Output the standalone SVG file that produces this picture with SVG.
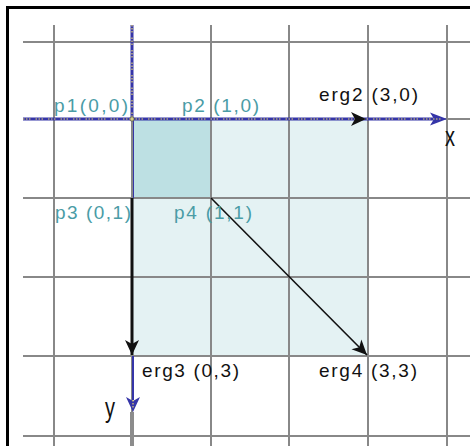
<svg xmlns="http://www.w3.org/2000/svg" width="470" height="446" viewBox="0 0 470 446">
  <style>
    .grid { stroke: #888888; stroke-width: 2; fill: none; }
    .lbl { font-family: "Liberation Sans", Arial, sans-serif; font-size: 19px; fill: #4a9ca6; }
    .blk { font-family: "Liberation Sans", Arial, sans-serif; font-size: 19px; fill: #111; }
    .axis { stroke: #3535a8; stroke-width: 3; fill: none; }
    .dots { stroke: #e8d870; stroke-width: 1.2; stroke-dasharray: 1.5 1.5 1.5 1.5 1.5 5; fill: none; }
    .vec { stroke: #111; fill: none; }
  </style>
  <defs>
    <marker id="ah" viewBox="-16 -8 17 16" refX="0" refY="0" markerWidth="17" markerHeight="16" markerUnits="userSpaceOnUse" orient="auto">
      <path d="M0,0 L-15,-7 L-11,0 L-15,7 Z" fill="#111"/>
    </marker>
  </defs>
  <rect width="470" height="446" fill="#ffffff"/>
  <path d="M7.5,446 V7.5 H470" stroke="#000" stroke-width="3" fill="none"/>

  <g id="shading">
    <rect x="132" y="119" width="236" height="237" fill="#e4f2f3"/>
    <rect x="132" y="119" width="79" height="79" fill="#bde0e3"/>
  </g>

  <g id="grid">
    <path class="grid" d="M54,25 V446 M132,25 V446 M211,25 V446 M289,25 V446 M368,25 V446 M447,25 V446"/>
    <path class="grid" d="M23,42 H470 M23,119 H470 M23,198 H470 M23,277 H470 M23,356 H470 M23,436 H470"/>
    <path d="M132,412 V446" stroke="#8c8c8c" stroke-width="4"/>
  </g>

  <g id="connectors">
    <path class="axis" d="M23,119 H436"/>
    <path class="dots" d="M23,119 H436"/>
    <path d="M447,119 L430,112.5 L434,119 L430,125.5 Z" fill="#3535a8"/>
    <path d="M433,119 H441" stroke="#e8d870" stroke-width="1.2" stroke-dasharray="1.5 1.5"/>
    <path class="axis" d="M132,25 V119"/>
    <path class="dots" d="M132,25 V119"/>
    <path d="M133.5,119 V198" stroke="#3535a8" stroke-width="1"/>
    <path d="M133,356 V400" stroke="#3535a8" stroke-width="2"/>
    <path d="M133,412 L126,397 L133,401 L140,397 Z" fill="#3535a8"/>
    <path d="M133,400 V408" stroke="#e8d870" stroke-width="1.2" stroke-dasharray="1.5 1.5"/>
    <circle cx="132" cy="119" r="2.2" fill="#d8d080" stroke="#555" stroke-width="0.8"/>
    <path d="M366,119 L351,112 L355,119 L351,126 Z" fill="#111"/>
    <line class="vec" x1="132" y1="198" x2="132" y2="355" stroke-width="3" marker-end="url(#ah)"/>
    <line class="vec" x1="211" y1="198" x2="367" y2="355" stroke-width="1.6" marker-end="url(#ah)"/>
  </g>

  <g id="p1"><text class="lbl" x="54" y="112" textLength="74" lengthAdjust="spacing">p1(0,0)</text></g>
  <g id="p2"><text class="lbl" x="182" y="112" textLength="77" lengthAdjust="spacing">p2 (1,0)</text></g>
  <g id="erg2"><text class="blk" x="319" y="101" textLength="99" lengthAdjust="spacing">erg2 (3,0)</text></g>
  <g id="p3"><text class="lbl" x="55" y="219" textLength="76" lengthAdjust="spacing">p3 (0,1)</text></g>
  <g id="p4"><text class="lbl" x="174" y="219" textLength="78" lengthAdjust="spacing">p4 (1,1)</text></g>
  <g id="erg3"><text class="blk" x="142" y="377" textLength="97" lengthAdjust="spacing">erg3 (0,3)</text></g>
  <g id="erg4"><text class="blk" x="319" y="377" textLength="98" lengthAdjust="spacing">erg4 (3,3)</text></g>
  <g id="xlabel"><text class="blk" transform="translate(445,146) scale(1,1.4)" style="font-size:20px">x</text></g>
  <g id="ylabel"><text class="blk" transform="translate(105,417) scale(1,1.4)" style="font-size:20px">y</text></g>
</svg>
